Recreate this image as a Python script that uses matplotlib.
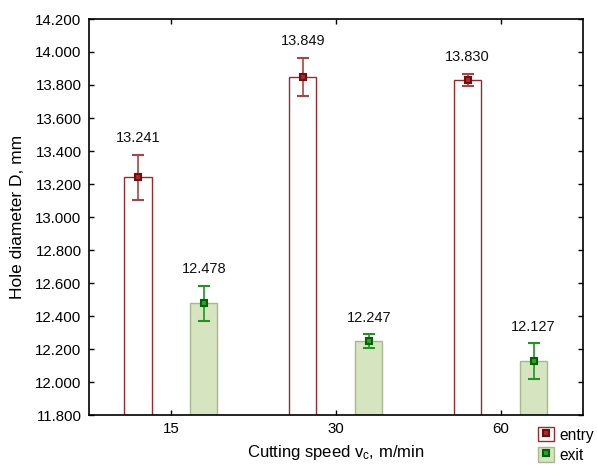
import matplotlib
matplotlib.use("Agg")
import matplotlib.pyplot as plt
import numpy as np
from matplotlib.patches import Patch
from matplotlib.lines import Line2D

plt.rcParams['font.family'] = ['Liberation Sans', 'DejaVu Sans']
plt.rcParams['mathtext.default'] = 'regular'

categories = ["15", "30", "60"]
entry_mean = [13.241, 13.849, 13.830]
entry_err = [0.135, 0.116, 0.036]
exit_mean = [12.478, 12.247, 12.127]
exit_err = [0.106, 0.041, 0.107]
yticks = [11.8, 12.0, 12.2, 12.4, 12.6, 12.8, 13.0, 13.2, 13.4, 13.6, 13.8, 14.0, 14.2]

red_edge = '#9a2a2a'
red_dark = '#7a0a0a'
green_fill = '#d7e4c0'
green_edge = '#a6b98c'
green_err = '#1e961e'
green_dark = '#006400'

fig = plt.figure(figsize=(5.97, 4.69), dpi=100)
ax = fig.add_axes([88.5/597, 1-415/469, (583-88.5)/597, (415-19)/469])

x = np.arange(len(categories))
off = 0.2
w = 0.165

ax.bar(x - off, entry_mean, width=w, color='white', edgecolor=red_edge, linewidth=1.0, zorder=2)
ax.bar(x + off, exit_mean, width=w, color=green_fill, edgecolor=green_edge, linewidth=1.0, zorder=2)

ax.errorbar(x - off, entry_mean, yerr=entry_err, fmt='s', color='#a03a3a', ecolor='#a84444',
            elinewidth=1.2, capsize=4.5, capthick=1.2, markersize=4.5,
            markerfacecolor='#a03030', markeredgecolor=red_dark, markeredgewidth=1.5, zorder=3)
ax.errorbar(x + off, exit_mean, yerr=exit_err, fmt='s', color=green_err, ecolor=green_err,
            elinewidth=1.2, capsize=4.5, capthick=1.2, markersize=4.5,
            markerfacecolor='#3a9a3a', markeredgecolor=green_dark, markeredgewidth=1.5, zorder=3)

for xi, m, e in zip(x - off, entry_mean, entry_err):
    ax.annotate(f"{m:.3f}", (xi, m + e), xytext=(0, 7), textcoords='offset points',
                ha='center', va='bottom', fontsize=10.5, color='#111111')
for xi, m, e in zip(x + off, exit_mean, exit_err):
    ax.annotate(f"{m:.3f}", (xi, m + e), xytext=(0, 7), textcoords='offset points',
                ha='center', va='bottom', fontsize=10.5, color='#111111')

ax.set_xlim(-0.5, 2.5)
ax.set_ylim(11.8, 14.2)
ax.set_yticks(yticks)
ax.set_yticklabels([f"{t:.3f}" for t in yticks])
ax.set_xticks(x)
ax.set_xticklabels(categories)
ax.tick_params(direction='in', top=True, right=True, length=3.5, width=1,
               labelsize=10.8, pad=5)
for s in ax.spines.values():
    s.set_linewidth(1.2)
    s.set_color('black')

ax.set_xlabel("Cutting speed v$_c$, m/min", fontsize=12, labelpad=5)
ax.set_ylabel("Hole diameter D, mm", fontsize=12.5, labelpad=7)

h_entry = (Patch(facecolor='white', edgecolor=red_edge, linewidth=1.0),
           Line2D([], [], marker='s', ls='', markersize=4, markerfacecolor='#a03030',
                  markeredgecolor=red_dark, markeredgewidth=1.5))
h_exit = (Patch(facecolor=green_fill, edgecolor=green_edge, linewidth=1.0),
          Line2D([], [], marker='s', ls='', markersize=4, markerfacecolor='#3a9a3a',
                 markeredgecolor=green_dark, markeredgewidth=1.5))
fig.legend([h_entry, h_exit], ["entry", "exit"], loc='upper left',
           bbox_to_anchor=(538/597, 1-427/469), frameon=False, borderpad=0,
           handlelength=1.0, handleheight=1.05, handletextpad=0.4, labelspacing=0.3,
           fontsize=11.2, borderaxespad=0)

fig.savefig("out.png", dpi=100)
